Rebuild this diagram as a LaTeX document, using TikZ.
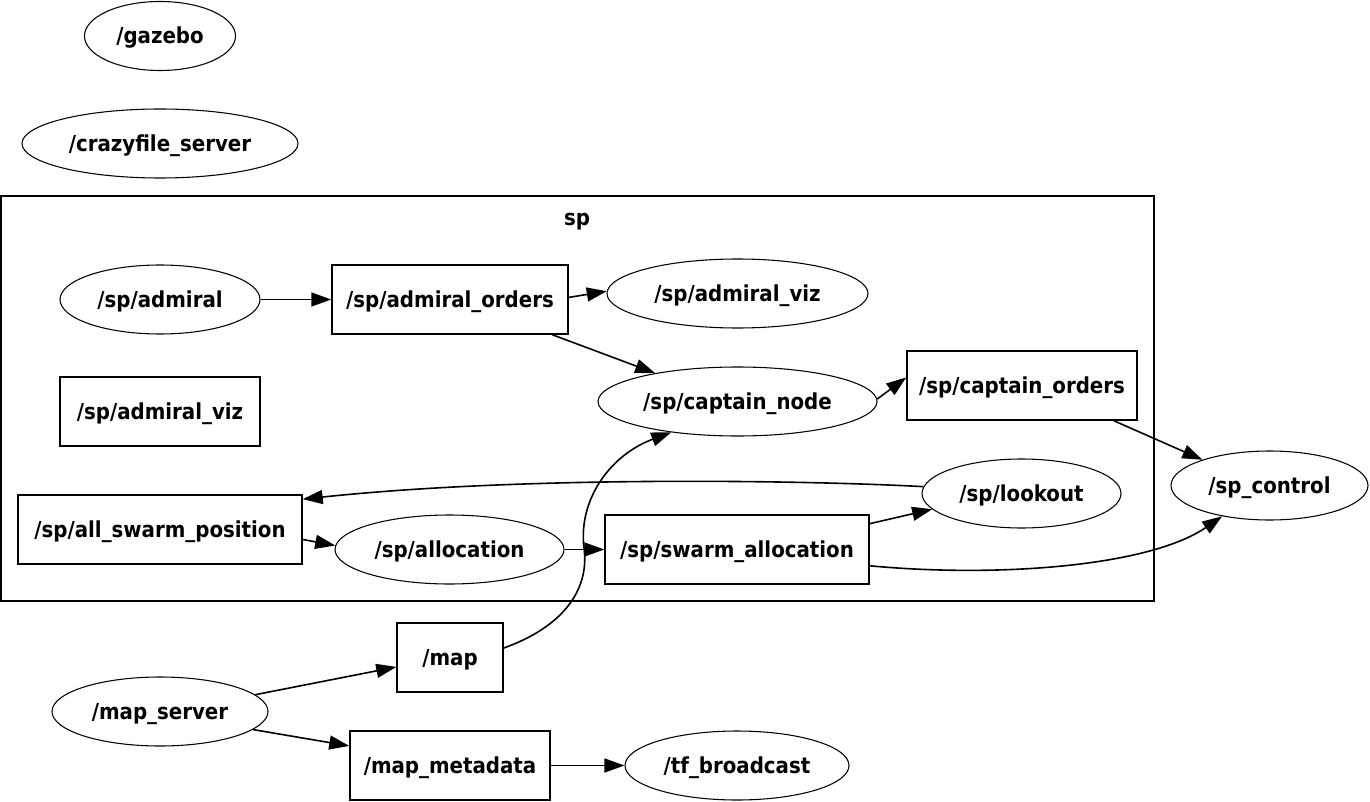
\documentclass[tikz,border=0pt]{standalone}
\usepackage{fontspec}
\newfontfamily\lblfont{DejaVu Sans Condensed Bold}
\usetikzlibrary{shapes.geometric,arrows.meta}
\tikzset{
  every node/.style={font=\lblfont\fontsize{16.5pt}{18pt}\selectfont, inner sep=0pt, text height=14pt, text depth=2pt},
  el/.style={ellipse, draw, line width=0.8pt, minimum height=69*0.75pt},
  bx/.style={rectangle, draw, line width=1.1pt, minimum height=69*0.75pt},
  arr/.style={draw, line width=1.2pt, -{Triangle[length=15pt,width=10.5pt]}},
}
\begin{document}
\begin{tikzpicture}[x=0.75pt,y=-0.75pt]
\useasboundingbox (0,0) rectangle (1370,802);
% cluster
\draw[line width=1.1pt] (1,196) rectangle (1154,601);
\node (splbl) at (577,218) {sp};
% nodes
\node[el, minimum width=151*0.75pt] (gz) at (160,36) {/gazebo};
\node[el, minimum width=276*0.75pt] (cf) at (160,143.5) {/crazyfile\_server};
\node[el, minimum width=200*0.75pt] (ad) at (160,299.5) {/sp/admiral};
\node[bx, minimum width=236*0.75pt] (ao) at (450,299.5) {/sp/admiral\_orders};
\node[el, minimum width=261*0.75pt] (av) at (737.5,293.5) {/sp/admiral\_viz};
\node[bx, minimum width=200*0.75pt] (avt) at (160,411.5) {/sp/admiral\_viz};
\node[el, minimum width=279*0.75pt] (cn) at (737.5,401.5) {/sp/captain\_node};
\node[bx, minimum width=230*0.75pt] (co) at (1022,385.5) {/sp/captain\_orders};
\node[el, minimum width=197*0.75pt] (sc) at (1269.5,485.5) {/sp\_control};
\node[el, minimum width=199*0.75pt] (lk) at (1021.5,493.5) {/sp/lookout};
\node[bx, minimum width=284*0.75pt] (asp) at (160,529.5) {/sp/all\_swarm\_position};
\node[el, minimum width=229*0.75pt] (al) at (449.5,549.5) {/sp/allocation};
\node[bx, minimum width=264*0.75pt] (sa) at (737,549.5) {/sp/swarm\_allocation};
\node[bx, minimum width=106*0.75pt] (mp) at (450,657.5) {/map};
\node[el, minimum width=216*0.75pt] (ms) at (160,711.5) {/map\_server};
\node[bx, minimum width=200*0.75pt] (mm) at (450,765.5) {/map\_metadata};
\node[el, minimum width=224*0.75pt] (tf) at (737,765.5) {/tf\_broadcast};
% edges
\draw[arr] (ad.east) -- (ao.west);
\draw[arr] (ao.1.2) -- (av.179.3);
\draw[arr] (ao.-19.5) -- (cn.161);
\draw[arr] (cn.1.9) -- (co.176.8);
\draw[arr] (co.-21.4) -- (sc.159);
\draw[arr] (lk.176.8) .. controls (800,480) and (520,476) .. (asp.12.5);
\draw[arr] (asp.-4.6) -- (al.178.2);
\draw[arr] (al.east) -- (sa.west);
\draw[arr] (sa.11.4) -- (lk.190.2);
\draw[arr] (sa.-7.1) .. controls (1000,578) and (1150,566) .. (sc.213.6);
\draw[arr] (mp.10.2) .. controls (560,628) and (590,592) .. (584,548) .. controls (578,500) and (610,455) .. (cn.205);
\draw[arr] (ms.10.4) -- (mp.190.2);
\draw[arr] (ms.-11) -- (mm.169);
\draw[arr] (mm.east) -- (tf.west);
\end{tikzpicture}
\end{document}
